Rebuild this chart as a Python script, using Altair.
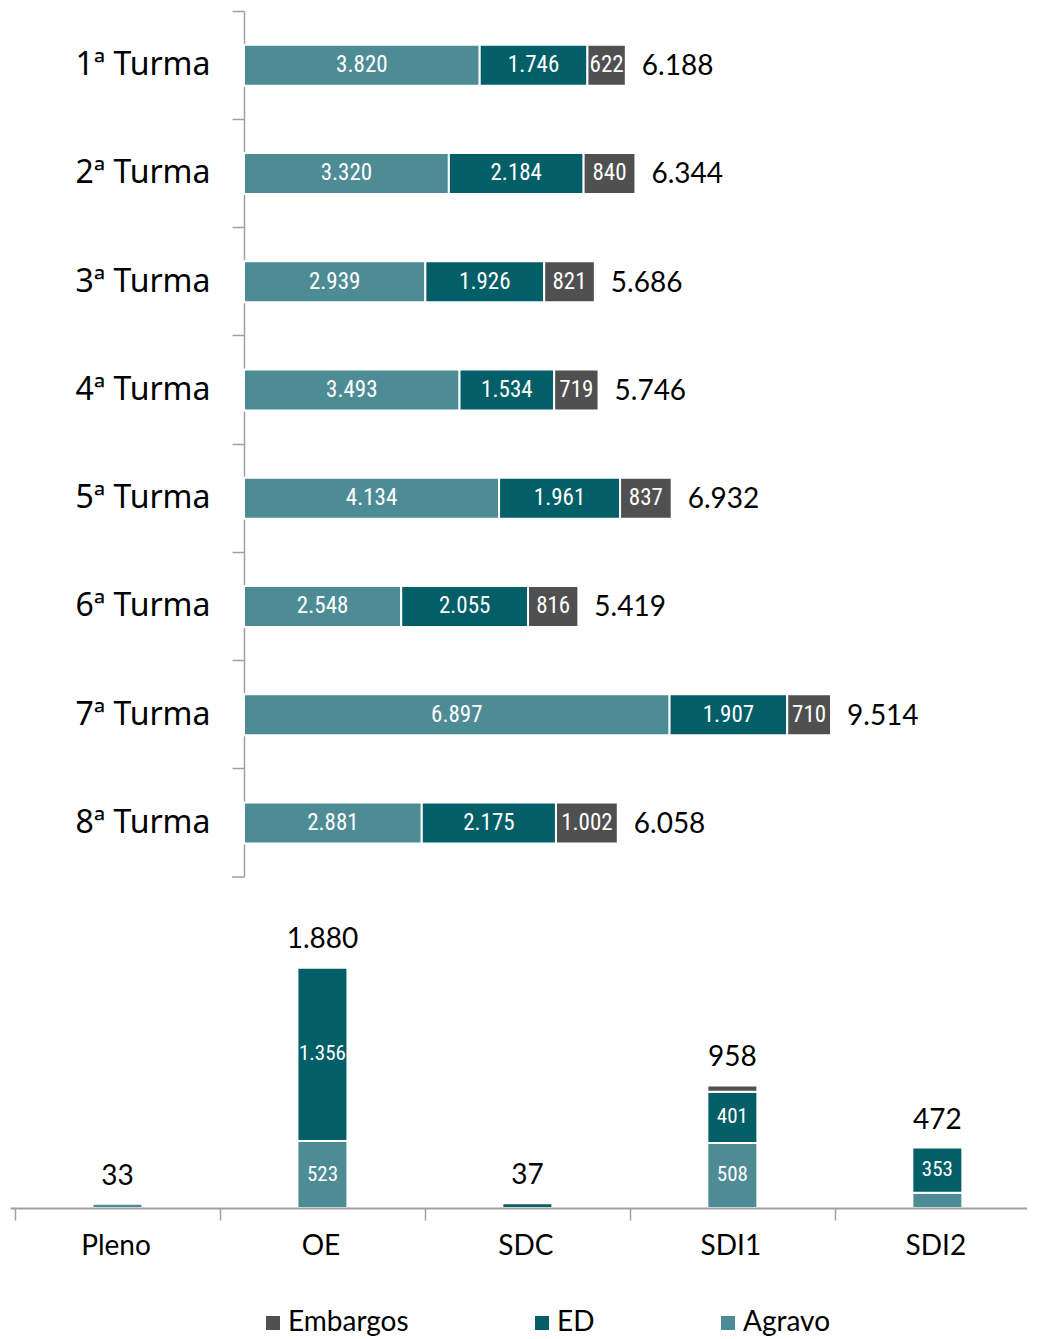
import altair as alt
import pandas as pd

# ---- data ----
turmas = ["1ª Turma", "2ª Turma", "3ª Turma", "4ª Turma",
          "5ª Turma", "6ª Turma", "7ª Turma", "8ª Turma"]
agravo_t = [3820, 3320, 2939, 3493, 4134, 2548, 6897, 2881]
ed_t = [1746, 2184, 1926, 1534, 1961, 2055, 1907, 2175]
embargos_t = [622, 840, 821, 719, 837, 816, 710, 1002]

orgaos = ["Pleno", "OE", "SDC", "SDI1", "SDI2"]
agravo_o = [33, 523, 0, 508, 119]
ed_o = [0, 1356, 37, 401, 353]
embargos_o = [0, 1, 0, 49, 0]

tipos = ["Agravo", "ED", "Embargos"]
legend_order = ["Embargos", "ED", "Agravo"]
palette = ["#505050", "#025e67", "#4e8c95"]

MAIN = "Lato, Open Sans, sans-serif"
LABELF = "Noto Sans, Lato, sans-serif"
COND = "Liberation Sans Narrow, Arial Narrow, Roboto Condensed, Roboto, sans-serif"
GRAY = "#a0a0a0"
W = 1017
AXIS_X = 234
H_BOT = 300
STEP = 207  # px per category in the bottom panel


def long_df(groups, series):
    rows = []
    for i, g in enumerate(groups):
        for k, (t, vals) in enumerate(zip(tipos, series)):
            if vals[i] > 0:
                rows.append({"grupo": g, "idx": i, "tipo": t, "ord": k,
                             "valor": vals[i]})
    return pd.DataFrame(rows)


df_t = long_df(turmas, [agravo_t, ed_t, embargos_t])
df_o = long_df(orgaos, [agravo_o, ed_o, embargos_o])

LAB = "replace(format(datum.valor, ','), ',', '.')"
LABT = "replace(format(datum.total, ','), ',', '.')"

color = alt.Color(
    "tipo:N",
    scale=alt.Scale(domain=legend_order, range=palette),
    legend=alt.Legend(
        title=None, orient="none", legendX=249, legendY=1298,
        direction="horizontal", symbolType="square", symbolSize=196,
        symbolStrokeWidth=0, labelFontSize=28, labelFont=MAIN,
        labelColor="black", columnPadding=119, labelOffset=1, padding=0,
    ),
)

# ---- top: horizontal stacked bars ----
xscale_t = alt.Scale(domain=[0, 12690], range=[AXIS_X, W])
yenc_t = alt.Y(
    "grupo:N", sort=turmas,
    scale=alt.Scale(paddingInner=0, paddingOuter=0),
    axis=alt.Axis(
        title=None, bandPosition=0, tickSize=12, tickColor=GRAY, tickWidth=1.5,
        domainColor=GRAY, domainWidth=1.5, labelFontSize=32, labelFont=LABELF,
        labelColor="black", labelPadding=22, offset=-AXIS_X,
    ),
)

base_t = alt.Chart(df_t).transform_stack(
    stack="valor", groupby=["grupo"], sort=[alt.SortField("ord")], as_=["x0", "x1"]
).transform_calculate(mid="(datum.x0 + datum.x1) / 2", lab=LAB)

bars_t = base_t.mark_bar(size=41, stroke="white", strokeWidth=2).encode(
    x=alt.X("x0:Q", scale=xscale_t, axis=None),
    x2="x1:Q",
    y=yenc_t,
    color=color,
)
inner_t = base_t.mark_text(color="white", font=COND, fontSize=23).encode(
    x=alt.X("mid:Q", scale=xscale_t, axis=None),
    y=yenc_t,
    text="lab:N",
)
tot_t = alt.Chart(df_t).transform_aggregate(
    total="sum(valor)", groupby=["grupo"]
).transform_calculate(lab=LABT).mark_text(
    align="left", dx=16, dy=2, font=MAIN, fontSize=28, color="black"
).encode(
    x=alt.X("total:Q", scale=xscale_t, axis=None),
    y=yenc_t,
    text="lab:N",
)
end_tick = alt.Chart(pd.DataFrame({"a": [0]})).mark_rule(
    color=GRAY, strokeWidth=1.5
).encode(x=alt.value(AXIS_X - 12), x2=alt.value(AXIS_X), y=alt.value(866))

top = alt.layer(bars_t, inner_t, tot_t, end_tick).properties(width=W, height=866)

# ---- bottom: vertical stacked bars (categories on a positional index) ----
names_js = "[" + ",".join("'" + o + "'" for o in orgaos) + "]"
xscale_o = alt.Scale(domain=[-0.5, -0.5 + W / STEP], nice=False, zero=False)
xaxis_o = alt.Axis(
    title=None, values=[i - 0.5 for i in range(len(orgaos))],
    labelExpr=names_js + "[round(datum.value + 0.5)]",
    labelOffset=STEP / 2 - 3, labelFlush=False, labelOverlap=False, labelBound=False,
    labelAngle=0, tickSize=12, tickColor=GRAY, tickWidth=1.5, grid=False,
    domainColor=GRAY, domainWidth=2, labelFontSize=28, labelFont=MAIN,
    labelColor="black", labelPadding=12, zindex=1,
)
xenc_o = alt.X("idx:Q", scale=xscale_o, axis=xaxis_o)

base_o = alt.Chart(df_o).transform_stack(
    stack="valor", groupby=["grupo"], sort=[alt.SortField("ord")], as_=["y0", "y1"]
).transform_calculate(mid="(datum.y0 + datum.y1) / 2", lab=LAB)

yscale_o = alt.Scale(domain=[0, 2343.75])
bars_o = base_o.mark_bar(size=50, stroke="white", strokeWidth=2).encode(
    x=xenc_o,
    y=alt.Y("y0:Q", scale=yscale_o, axis=None),
    y2="y1:Q",
    color=color,
)
inner_o = base_o.transform_filter("datum.valor >= 150").mark_text(
    color="white", font=COND, fontSize=21
).encode(
    x=xenc_o,
    y=alt.Y("mid:Q", scale=yscale_o, axis=None),
    text="lab:N",
)
tot_o = alt.Chart(df_o).transform_aggregate(
    total="sum(valor)", groupby=["grupo", "idx"]
).transform_calculate(lab=LABT).mark_text(
    baseline="bottom", dy=-13, font=MAIN, fontSize=28, color="black"
).encode(
    x=xenc_o,
    y=alt.Y("total:Q", scale=yscale_o, axis=None),
    text="lab:N",
)

bottom = alt.layer(bars_o, inner_o, tot_o).properties(width=W, height=H_BOT)

chart = alt.vconcat(top, bottom, spacing=30).properties(
    padding={"left": 2, "top": 2, "right": 0, "bottom": 0}
).configure_view(stroke=None)

chart.save("out.html", embed_options={"renderer": "svg", "actions": False})
